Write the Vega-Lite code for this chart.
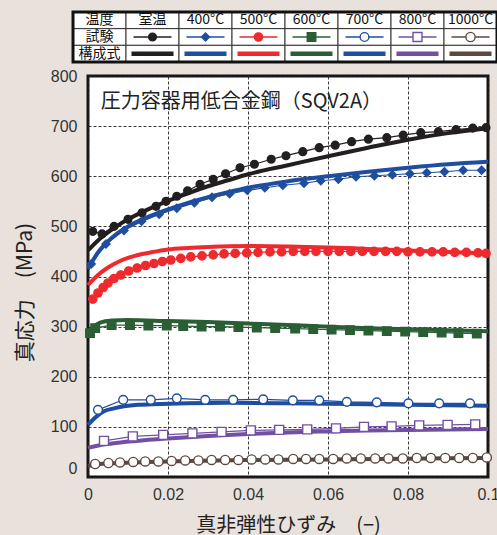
{
  "$schema": "https://vega.github.io/schema/vega-lite/v6.json",
  "width": 400,
  "height": 401,
  "autosize": {"type": "none"},
  "padding": {"left": 88, "top": 76, "right": 9, "bottom": 58},
  "background": "#e9e2dc",
  "config": {
    "view": {"fill": "white", "stroke": "#151515", "strokeWidth": 3},
    "axis": {"labelFont": "Liberation Sans", "labelFontSize": 16, "labelColor": "#333333", "titleFont": "Noto Sans CJK JP", "titleFontWeight": "normal", "titleColor": "#222222", "domain": false, "ticks": false, "grid": true, "gridDash": [3, 2], "gridColor": "#222222", "gridWidth": 0.9, "gridOpacity": 1, "labelOverlap": false}
  },
  "datasets": {
    "model": [
      {"t": "室温", "e": 0, "s": 452}, {"t": "室温", "e": 0.0025, "s": 472}, {"t": "室温", "e": 0.005, "s": 488}, {"t": "室温", "e": 0.0075, "s": 502}, {"t": "室温", "e": 0.01, "s": 514}, {"t": "室温", "e": 0.015, "s": 534}, {"t": "室温", "e": 0.02, "s": 551}, {"t": "室温", "e": 0.025, "s": 566}, {"t": "室温", "e": 0.03, "s": 580}, {"t": "室温", "e": 0.035, "s": 592}, {"t": "室温", "e": 0.04, "s": 604}, {"t": "室温", "e": 0.05, "s": 622}, {"t": "室温", "e": 0.06, "s": 640}, {"t": "室温", "e": 0.07, "s": 657}, {"t": "室温", "e": 0.08, "s": 673}, {"t": "室温", "e": 0.09, "s": 686}, {"t": "室温", "e": 0.1, "s": 696},
      {"t": "400°C", "e": 0, "s": 415}, {"t": "400°C", "e": 0.0025, "s": 448}, {"t": "400°C", "e": 0.005, "s": 470}, {"t": "400°C", "e": 0.0075, "s": 487}, {"t": "400°C", "e": 0.01, "s": 500}, {"t": "400°C", "e": 0.015, "s": 519}, {"t": "400°C", "e": 0.02, "s": 534}, {"t": "400°C", "e": 0.025, "s": 547}, {"t": "400°C", "e": 0.03, "s": 558}, {"t": "400°C", "e": 0.035, "s": 568}, {"t": "400°C", "e": 0.04, "s": 577}, {"t": "400°C", "e": 0.05, "s": 590}, {"t": "400°C", "e": 0.06, "s": 600}, {"t": "400°C", "e": 0.07, "s": 609}, {"t": "400°C", "e": 0.08, "s": 617}, {"t": "400°C", "e": 0.09, "s": 624}, {"t": "400°C", "e": 0.1, "s": 629},
      {"t": "500°C", "e": 0, "s": 383}, {"t": "500°C", "e": 0.0025, "s": 403}, {"t": "500°C", "e": 0.005, "s": 418}, {"t": "500°C", "e": 0.0075, "s": 429}, {"t": "500°C", "e": 0.01, "s": 437}, {"t": "500°C", "e": 0.0125, "s": 443}, {"t": "500°C", "e": 0.015, "s": 447}, {"t": "500°C", "e": 0.02, "s": 454}, {"t": "500°C", "e": 0.025, "s": 457}, {"t": "500°C", "e": 0.03, "s": 459}, {"t": "500°C", "e": 0.04, "s": 461}, {"t": "500°C", "e": 0.05, "s": 460}, {"t": "500°C", "e": 0.06, "s": 458}, {"t": "500°C", "e": 0.07, "s": 455}, {"t": "500°C", "e": 0.08, "s": 452}, {"t": "500°C", "e": 0.09, "s": 449}, {"t": "500°C", "e": 0.1, "s": 446},
      {"t": "600°C", "e": 0, "s": 285}, {"t": "600°C", "e": 0.0015, "s": 300}, {"t": "600°C", "e": 0.003, "s": 308}, {"t": "600°C", "e": 0.006, "s": 312}, {"t": "600°C", "e": 0.01, "s": 313}, {"t": "600°C", "e": 0.02, "s": 311}, {"t": "600°C", "e": 0.03, "s": 309}, {"t": "600°C", "e": 0.04, "s": 306}, {"t": "600°C", "e": 0.05, "s": 303}, {"t": "600°C", "e": 0.06, "s": 300}, {"t": "600°C", "e": 0.07, "s": 297}, {"t": "600°C", "e": 0.08, "s": 295}, {"t": "600°C", "e": 0.09, "s": 293}, {"t": "600°C", "e": 0.1, "s": 291},
      {"t": "700°C", "e": 0, "s": 104}, {"t": "700°C", "e": 0.002, "s": 120}, {"t": "700°C", "e": 0.004, "s": 131}, {"t": "700°C", "e": 0.0065, "s": 137}, {"t": "700°C", "e": 0.009, "s": 141}, {"t": "700°C", "e": 0.0125, "s": 144}, {"t": "700°C", "e": 0.016, "s": 145}, {"t": "700°C", "e": 0.025, "s": 147}, {"t": "700°C", "e": 0.035, "s": 148}, {"t": "700°C", "e": 0.05, "s": 147}, {"t": "700°C", "e": 0.06, "s": 146}, {"t": "700°C", "e": 0.07, "s": 145}, {"t": "700°C", "e": 0.08, "s": 144}, {"t": "700°C", "e": 0.09, "s": 143}, {"t": "700°C", "e": 0.1, "s": 142},
      {"t": "800°C", "e": 0, "s": 58}, {"t": "800°C", "e": 0.002, "s": 62}, {"t": "800°C", "e": 0.006, "s": 67}, {"t": "800°C", "e": 0.012, "s": 72}, {"t": "800°C", "e": 0.02, "s": 77}, {"t": "800°C", "e": 0.03, "s": 82}, {"t": "800°C", "e": 0.04, "s": 86}, {"t": "800°C", "e": 0.05, "s": 89}, {"t": "800°C", "e": 0.06, "s": 91}, {"t": "800°C", "e": 0.07, "s": 93}, {"t": "800°C", "e": 0.08, "s": 94}, {"t": "800°C", "e": 0.09, "s": 95}, {"t": "800°C", "e": 0.1, "s": 96},
      {"t": "1000°C", "e": 0, "s": 22}, {"t": "1000°C", "e": 0.003, "s": 26}, {"t": "1000°C", "e": 0.008, "s": 28}, {"t": "1000°C", "e": 0.015, "s": 30}, {"t": "1000°C", "e": 0.025, "s": 32}, {"t": "1000°C", "e": 0.04, "s": 34}, {"t": "1000°C", "e": 0.06, "s": 35}, {"t": "1000°C", "e": 0.08, "s": 36.5}, {"t": "1000°C", "e": 0.1, "s": 38}
    ],
    "exp": [
      {"t": "室温", "e": 0.0012, "s": 490}, {"t": "室温", "e": 0.0035, "s": 485}, {"t": "室温", "e": 0.0065, "s": 500}, {"t": "室温", "e": 0.01, "s": 514}, {"t": "室温", "e": 0.0135, "s": 527}, {"t": "室温", "e": 0.017, "s": 540}, {"t": "室温", "e": 0.0195, "s": 550}, {"t": "室温", "e": 0.0222, "s": 560}, {"t": "室温", "e": 0.0249, "s": 571}, {"t": "室温", "e": 0.028, "s": 584}, {"t": "室温", "e": 0.0313, "s": 594}, {"t": "室温", "e": 0.0344, "s": 605}, {"t": "室温", "e": 0.038, "s": 617}, {"t": "室温", "e": 0.0416, "s": 624}, {"t": "室温", "e": 0.0458, "s": 634}, {"t": "室温", "e": 0.0495, "s": 641}, {"t": "室温", "e": 0.0537, "s": 649}, {"t": "室温", "e": 0.0578, "s": 657}, {"t": "室温", "e": 0.0618, "s": 662}, {"t": "室温", "e": 0.0659, "s": 669}, {"t": "室温", "e": 0.0701, "s": 674}, {"t": "室温", "e": 0.0747, "s": 677}, {"t": "室温", "e": 0.0788, "s": 682}, {"t": "室温", "e": 0.0832, "s": 687}, {"t": "室温", "e": 0.0876, "s": 689}, {"t": "室温", "e": 0.092, "s": 693}, {"t": "室温", "e": 0.0962, "s": 696}, {"t": "室温", "e": 0.0995, "s": 697},
      {"t": "400°C", "e": 0.0008, "s": 425}, {"t": "400°C", "e": 0.0045, "s": 465}, {"t": "400°C", "e": 0.009, "s": 492}, {"t": "400°C", "e": 0.0134, "s": 510}, {"t": "400°C", "e": 0.0178, "s": 524}, {"t": "400°C", "e": 0.0222, "s": 536}, {"t": "400°C", "e": 0.0266, "s": 547}, {"t": "400°C", "e": 0.031, "s": 558}, {"t": "400°C", "e": 0.0354, "s": 565}, {"t": "400°C", "e": 0.0398, "s": 572}, {"t": "400°C", "e": 0.0442, "s": 577}, {"t": "400°C", "e": 0.0487, "s": 582}, {"t": "400°C", "e": 0.054, "s": 586}, {"t": "400°C", "e": 0.0582, "s": 591}, {"t": "400°C", "e": 0.0626, "s": 594}, {"t": "400°C", "e": 0.067, "s": 599}, {"t": "400°C", "e": 0.0716, "s": 601}, {"t": "400°C", "e": 0.0761, "s": 603}, {"t": "400°C", "e": 0.0805, "s": 605}, {"t": "400°C", "e": 0.0847, "s": 607}, {"t": "400°C", "e": 0.0891, "s": 609}, {"t": "400°C", "e": 0.0938, "s": 612}, {"t": "400°C", "e": 0.0984, "s": 612},
      {"t": "500°C", "e": 0.0012, "s": 355}, {"t": "500°C", "e": 0.0025, "s": 367}, {"t": "500°C", "e": 0.0038, "s": 378}, {"t": "500°C", "e": 0.005, "s": 387}, {"t": "500°C", "e": 0.0065, "s": 396}, {"t": "500°C", "e": 0.0082, "s": 403}, {"t": "500°C", "e": 0.0102, "s": 411}, {"t": "500°C", "e": 0.0123, "s": 417}, {"t": "500°C", "e": 0.0144, "s": 422}, {"t": "500°C", "e": 0.0165, "s": 426}, {"t": "500°C", "e": 0.0186, "s": 430}, {"t": "500°C", "e": 0.0207, "s": 433}, {"t": "500°C", "e": 0.0232, "s": 436}, {"t": "500°C", "e": 0.0257, "s": 439}, {"t": "500°C", "e": 0.0285, "s": 441}, {"t": "500°C", "e": 0.0313, "s": 443}, {"t": "500°C", "e": 0.034, "s": 445}, {"t": "500°C", "e": 0.0368, "s": 446}, {"t": "500°C", "e": 0.0397, "s": 447}, {"t": "500°C", "e": 0.0425, "s": 448}, {"t": "500°C", "e": 0.0455, "s": 449}, {"t": "500°C", "e": 0.0484, "s": 449}, {"t": "500°C", "e": 0.0513, "s": 450}, {"t": "500°C", "e": 0.0542, "s": 450}, {"t": "500°C", "e": 0.057, "s": 450}, {"t": "500°C", "e": 0.06, "s": 450}, {"t": "500°C", "e": 0.0628, "s": 450}, {"t": "500°C", "e": 0.0657, "s": 450}, {"t": "500°C", "e": 0.0686, "s": 450}, {"t": "500°C", "e": 0.0715, "s": 450}, {"t": "500°C", "e": 0.0744, "s": 450}, {"t": "500°C", "e": 0.0772, "s": 450}, {"t": "500°C", "e": 0.08, "s": 449}, {"t": "500°C", "e": 0.083, "s": 449}, {"t": "500°C", "e": 0.086, "s": 449}, {"t": "500°C", "e": 0.0888, "s": 449}, {"t": "500°C", "e": 0.0917, "s": 448}, {"t": "500°C", "e": 0.0946, "s": 448}, {"t": "500°C", "e": 0.0975, "s": 447}, {"t": "500°C", "e": 0.0995, "s": 446},
      {"t": "600°C", "e": 0.0005, "s": 287}, {"t": "600°C", "e": 0.0018, "s": 297}, {"t": "600°C", "e": 0.0059, "s": 303}, {"t": "600°C", "e": 0.0105, "s": 303}, {"t": "600°C", "e": 0.0151, "s": 302}, {"t": "600°C", "e": 0.0197, "s": 302}, {"t": "600°C", "e": 0.0238, "s": 301}, {"t": "600°C", "e": 0.0284, "s": 300}, {"t": "600°C", "e": 0.033, "s": 300}, {"t": "600°C", "e": 0.0376, "s": 299}, {"t": "600°C", "e": 0.0422, "s": 298}, {"t": "600°C", "e": 0.0468, "s": 297}, {"t": "600°C", "e": 0.0518, "s": 296}, {"t": "600°C", "e": 0.0563, "s": 295}, {"t": "600°C", "e": 0.0609, "s": 294}, {"t": "600°C", "e": 0.0655, "s": 293}, {"t": "600°C", "e": 0.0701, "s": 292}, {"t": "600°C", "e": 0.0747, "s": 291}, {"t": "600°C", "e": 0.0793, "s": 290}, {"t": "600°C", "e": 0.0838, "s": 289}, {"t": "600°C", "e": 0.0884, "s": 288}, {"t": "600°C", "e": 0.0926, "s": 287}, {"t": "600°C", "e": 0.0972, "s": 286},
      {"t": "700°C", "e": 0.0025, "s": 134}, {"t": "700°C", "e": 0.0088, "s": 154}, {"t": "700°C", "e": 0.0157, "s": 154}, {"t": "700°C", "e": 0.0222, "s": 157}, {"t": "700°C", "e": 0.0293, "s": 154}, {"t": "700°C", "e": 0.0363, "s": 154}, {"t": "700°C", "e": 0.0438, "s": 155}, {"t": "700°C", "e": 0.0512, "s": 153}, {"t": "700°C", "e": 0.0578, "s": 153}, {"t": "700°C", "e": 0.0647, "s": 150}, {"t": "700°C", "e": 0.0722, "s": 149}, {"t": "700°C", "e": 0.0801, "s": 147}, {"t": "700°C", "e": 0.0878, "s": 147}, {"t": "700°C", "e": 0.0955, "s": 147},
      {"t": "800°C", "e": 0.004, "s": 72}, {"t": "800°C", "e": 0.0112, "s": 81}, {"t": "800°C", "e": 0.0188, "s": 84}, {"t": "800°C", "e": 0.0261, "s": 87}, {"t": "800°C", "e": 0.0334, "s": 90}, {"t": "800°C", "e": 0.0407, "s": 93}, {"t": "800°C", "e": 0.0478, "s": 94}, {"t": "800°C", "e": 0.0548, "s": 95}, {"t": "800°C", "e": 0.062, "s": 97}, {"t": "800°C", "e": 0.069, "s": 100}, {"t": "800°C", "e": 0.0759, "s": 101}, {"t": "800°C", "e": 0.0828, "s": 103}, {"t": "800°C", "e": 0.0899, "s": 104}, {"t": "800°C", "e": 0.0968, "s": 105},
      {"t": "1000°C", "e": 0.0018, "s": 26}, {"t": "1000°C", "e": 0.0051, "s": 28}, {"t": "1000°C", "e": 0.008, "s": 29}, {"t": "1000°C", "e": 0.0113, "s": 30}, {"t": "1000°C", "e": 0.0143, "s": 31}, {"t": "1000°C", "e": 0.0176, "s": 31}, {"t": "1000°C", "e": 0.0209, "s": 32}, {"t": "1000°C", "e": 0.0243, "s": 33}, {"t": "1000°C", "e": 0.0276, "s": 33}, {"t": "1000°C", "e": 0.0309, "s": 34}, {"t": "1000°C", "e": 0.0343, "s": 34}, {"t": "1000°C", "e": 0.0376, "s": 34}, {"t": "1000°C", "e": 0.0409, "s": 35}, {"t": "1000°C", "e": 0.0443, "s": 35}, {"t": "1000°C", "e": 0.0476, "s": 35}, {"t": "1000°C", "e": 0.0513, "s": 36}, {"t": "1000°C", "e": 0.0545, "s": 36}, {"t": "1000°C", "e": 0.0578, "s": 36}, {"t": "1000°C", "e": 0.0613, "s": 36}, {"t": "1000°C", "e": 0.0647, "s": 37}, {"t": "1000°C", "e": 0.0682, "s": 37}, {"t": "1000°C", "e": 0.0718, "s": 37}, {"t": "1000°C", "e": 0.0751, "s": 37}, {"t": "1000°C", "e": 0.0787, "s": 37}, {"t": "1000°C", "e": 0.0822, "s": 38}, {"t": "1000°C", "e": 0.0857, "s": 38}, {"t": "1000°C", "e": 0.0893, "s": 38}, {"t": "1000°C", "e": 0.0928, "s": 38}, {"t": "1000°C", "e": 0.0962, "s": 38}, {"t": "1000°C", "e": 0.0997, "s": 39}
    ],
    "cells": [
      {"col": "項目", "row": "温度"}, {"col": "室温", "row": "温度"}, {"col": "400°C", "row": "温度"}, {"col": "500°C", "row": "温度"}, {"col": "600°C", "row": "温度"}, {"col": "700°C", "row": "温度"}, {"col": "800°C", "row": "温度"}, {"col": "1000°C", "row": "温度"},
      {"col": "項目", "row": "試験"}, {"col": "室温", "row": "試験"}, {"col": "400°C", "row": "試験"}, {"col": "500°C", "row": "試験"}, {"col": "600°C", "row": "試験"}, {"col": "700°C", "row": "試験"}, {"col": "800°C", "row": "試験"}, {"col": "1000°C", "row": "試験"},
      {"col": "項目", "row": "構成式"}, {"col": "室温", "row": "構成式"}, {"col": "400°C", "row": "構成式"}, {"col": "500°C", "row": "構成式"}, {"col": "600°C", "row": "構成式"}, {"col": "700°C", "row": "構成式"}, {"col": "800°C", "row": "構成式"}, {"col": "1000°C", "row": "構成式"}
    ],
    "labels": [
      {"col": "項目", "row": "温度", "label": "温度"}, {"col": "項目", "row": "試験", "label": "試験"}, {"col": "項目", "row": "構成式", "label": "構成式"},
      {"col": "室温", "row": "温度", "label": "室温"}, {"col": "400°C", "row": "温度", "label": "400°C"}, {"col": "500°C", "row": "温度", "label": "500°C"}, {"col": "600°C", "row": "温度", "label": "600°C"}, {"col": "700°C", "row": "温度", "label": "700°C"}, {"col": "800°C", "row": "温度", "label": "800°C"}, {"col": "1000°C", "row": "温度", "label": "1000°C"}
    ],
    "legendExp": [
      {"t": "室温", "row": "試験"}, {"t": "400°C", "row": "試験"}, {"t": "500°C", "row": "試験"}, {"t": "600°C", "row": "試験"}, {"t": "700°C", "row": "試験"}, {"t": "800°C", "row": "試験"}, {"t": "1000°C", "row": "試験"}
    ],
    "legendModel": [
      {"t": "室温", "row": "構成式"}, {"t": "400°C", "row": "構成式"}, {"t": "500°C", "row": "構成式"}, {"t": "600°C", "row": "構成式"}, {"t": "700°C", "row": "構成式"}, {"t": "800°C", "row": "構成式"}, {"t": "1000°C", "row": "構成式"}
    ],
    "frame": [
      {"c1": "項目", "c2": "1000°C", "r1": "温度", "r2": "構成式"}
    ]
  },
  "layer": [
    {
      "layer": [
        {
          "data": {"name": "model"},
          "mark": {"type": "line", "strokeWidth": 4, "interpolate": "monotone"},
          "encoding": {
            "x": {"field": "e", "type": "quantitative", "scale": {"domain": [0, 0.1]},
              "axis": {"values": [0, 0.02, 0.04, 0.06, 0.08, 0.1], "format": "~g", "labelFlush": false, "labelPadding": 9, "title": "真非弾性ひずみ　(−)", "titleFontSize": 20, "titlePadding": 13}},
            "y": {"field": "s", "type": "quantitative", "scale": {"domain": [0, 800]},
              "axis": {"values": [0, 100, 200, 300, 400, 500, 600, 700, 800], "format": "d", "labelPadding": 11, "labelOffset": {"condition": {"test": "datum.value === 0", "value": -9}, "value": 0}, "title": "真応力　(MPa)", "titleFontSize": 21, "titlePadding": 15, "titleY": 216}},
            "color": {"field": "t", "type": "nominal", "scale": {"domain": ["室温", "400°C", "500°C", "600°C", "700°C", "800°C", "1000°C"], "range": ["#231f20", "#1f4ea0", "#ee2a2e", "#2a5e34", "#1f4ea0", "#7150a4", "#5c4841"]}, "legend": null}
          }
        },
        {
          "data": {"name": "exp"},
          "mark": {"type": "line", "strokeWidth": 1.2},
          "encoding": {
            "x": {"field": "e", "type": "quantitative", "scale": {"domain": [0, 0.1]}},
            "y": {"field": "s", "type": "quantitative", "scale": {"domain": [0, 800]}},
            "color": {"field": "t", "type": "nominal", "legend": null}
          }
        },
        {
          "data": {"name": "exp"},
          "mark": {"type": "point", "opacity": 1, "strokeWidth": 1.4},
          "encoding": {
            "x": {"field": "e", "type": "quantitative", "scale": {"domain": [0, 0.1]}},
            "y": {"field": "s", "type": "quantitative", "scale": {"domain": [0, 800]}},
            "color": {"field": "t", "type": "nominal", "legend": null},
            "fill": {"field": "t", "type": "nominal", "scale": {"domain": ["室温", "400°C", "500°C", "600°C", "700°C", "800°C", "1000°C"], "range": ["#231f20", "#1f4ea0", "#ee2a2e", "#2a5e34", "#ffffff", "#ffffff", "#ffffff"]}, "legend": null},
            "shape": {"field": "t", "type": "nominal", "scale": {"domain": ["室温", "400°C", "500°C", "600°C", "700°C", "800°C", "1000°C"], "range": ["circle", "diamond", "circle", "square", "circle", "square", "circle"]}, "legend": null},
            "size": {"field": "t", "type": "nominal", "scale": {"domain": ["室温", "400°C", "500°C", "600°C", "700°C", "800°C", "1000°C"], "range": [60, 85, 66, 160, 80, 95, 70]}, "legend": null}
          }
        },
        {
          "data": {"values": [{"label": "圧力容器用低合金鋼（SQV2A）"}]},
          "mark": {"type": "text", "align": "left", "baseline": "middle", "font": "Noto Sans CJK JP", "fontSize": 20, "color": "#222222"},
          "encoding": {
            "x": {"datum": 0.0032, "type": "quantitative"},
            "y": {"datum": 748, "type": "quantitative"},
            "text": {"field": "label"}
          }
        }
      ]
    },
    {
      "layer": [
        {
          "data": {"name": "cells"},
          "mark": {"type": "rect", "fill": "white", "stroke": "#333333", "strokeWidth": 1},
          "encoding": {
            "x": {"field": "col", "type": "nominal", "scale": {"type": "band", "domain": ["項目", "室温", "400°C", "500°C", "600°C", "700°C", "800°C", "1000°C"], "range": [-15, 409], "paddingInner": 0, "paddingOuter": 0}, "axis": null},
            "y": {"field": "row", "type": "nominal", "scale": {"type": "band", "domain": ["温度", "試験", "構成式"], "range": [-64, -14], "paddingInner": 0, "paddingOuter": 0}, "axis": null}
          }
        },
        {
          "data": {"name": "frame"},
          "mark": {"type": "rect", "fill": "transparent", "stroke": "#111111", "strokeWidth": 3},
          "encoding": {
            "x": {"field": "c1", "type": "nominal", "bandPosition": 0},
            "x2": {"field": "c2", "bandPosition": 1},
            "y": {"field": "r1", "type": "nominal", "bandPosition": 0},
            "y2": {"field": "r2", "bandPosition": 1}
          }
        },
        {
          "data": {"name": "labels"},
          "mark": {"type": "text", "align": "center", "baseline": "middle", "font": "Liberation Sans Narrow, Noto Sans CJK JP", "fontSize": 14, "color": "#111111"},
          "encoding": {
            "x": {"field": "col", "type": "nominal"},
            "y": {"field": "row", "type": "nominal"},
            "text": {"field": "label"}
          }
        },
        {
          "data": {"name": "legendExp"},
          "mark": {"type": "tick", "orient": "horizontal", "size": 38, "thickness": 1.3, "opacity": 1},
          "encoding": {
            "x": {"field": "t", "type": "nominal"},
            "y": {"field": "row", "type": "nominal"},
            "color": {"field": "t", "type": "nominal", "legend": null}
          }
        },
        {
          "data": {"name": "legendExp"},
          "mark": {"type": "point", "opacity": 1, "strokeWidth": 1.4},
          "encoding": {
            "x": {"field": "t", "type": "nominal"},
            "y": {"field": "row", "type": "nominal"},
            "color": {"field": "t", "type": "nominal", "legend": null},
            "fill": {"field": "t", "type": "nominal", "legend": null},
            "shape": {"field": "t", "type": "nominal", "legend": null},
            "size": {"field": "t", "type": "nominal", "legend": null}
          }
        },
        {
          "data": {"name": "legendModel"},
          "mark": {"type": "tick", "orient": "horizontal", "size": 42, "thickness": 4.5, "opacity": 1},
          "encoding": {
            "x": {"field": "t", "type": "nominal"},
            "y": {"field": "row", "type": "nominal"},
            "color": {"field": "t", "type": "nominal", "legend": null}
          }
        }
      ]
    }
  ],
  "resolve": {"scale": {"x": "independent", "y": "independent"}, "axis": {"x": "independent", "y": "independent"}}
}
